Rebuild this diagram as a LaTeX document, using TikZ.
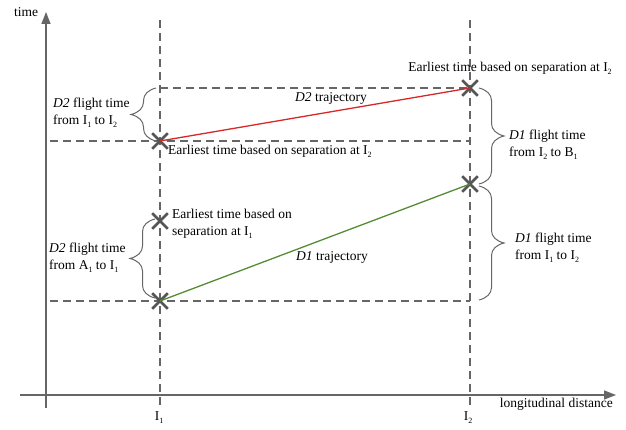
\documentclass[tikz,border=0pt]{standalone}
\usepackage{fontspec}
\setmainfont{Liberation Serif}
\usetikzlibrary{arrows.meta,shapes.misc,decorations.pathreplacing,positioning}
\definecolor{axisgray}{RGB}{102,102,102}
\definecolor{markgray}{RGB}{85,85,85}
\definecolor{trajred}{RGB}{214,40,40}
\definecolor{trajgreen}{RGB}{84,140,52}
\newcommand{\lowsub}[1]{\raisebox{-0.5ex}{\fontsize{8}{8}\selectfont #1}}
\tikzset{
  axisline/.style={axisgray,line width=1.4pt,-{Triangle[width=9pt,length=12pt]}},
  guide/.style={axisgray,line width=1.1pt,dash pattern=on 8pt off 5pt},
  xmark/.style={cross out,draw=markgray,line width=2.6pt,minimum size=13pt,inner sep=0pt},
  brc/.style={decorate,decoration={brace,amplitude=12.5pt,transform={yscale=2}},axisgray,line width=1pt},
  lbl/.style={font=\fontsize{13.5}{16.5}\selectfont,inner sep=0pt},
  traj/.style={line width=1.3pt},
}
\begin{document}
\begin{tikzpicture}[x=1pt,y=-1pt]
\useasboundingbox (0,0) rectangle (626,430);

% axes
\coordinate (ybot) at (46,408);
\coordinate (ytop) at (46,12);
\coordinate (xleft) at (20,395);
\coordinate (xright) at (616,395);
\draw[axisline] (ybot) -- (ytop);
\draw[axisline] (xleft) -- (xright);
\node[lbl] (timelab) at (26,12) {time};
\node[lbl,anchor=east] (distlab) at (613,404) {longitudinal distance};

% vertical guides at I1 and I2
\coordinate (g1top) at (160,20);
\coordinate (g1bot) at (160,406);
\coordinate (g2top) at (470,20);
\coordinate (g2bot) at (470,406);
\draw[guide] (g1top) -- (g1bot);
\draw[guide] (g2top) -- (g2bot);
\node[lbl] (i1lab) at (159,418) {I\lowsub{1}};
\node[lbl] (i2lab) at (468,418) {I\lowsub{2}};

% horizontal guides
\coordinate (h1a) at (160,88);
\coordinate (h1b) at (470,88);
\coordinate (h2a) at (50,141);
\coordinate (h2b) at (470,141);
\coordinate (h3a) at (50,301);
\coordinate (h3b) at (470,301);
\draw[guide] (h1a) -- (h1b);
\draw[guide] (h2a) -- (h2b);
\draw[guide] (h3a) -- (h3b);

% crossing points
\node[xmark] (d2a) at (160,141) {};
\node[xmark] (d2b) at (470,88) {};
\node[xmark] (sep1) at (160,221) {};
\node[xmark] (d1a) at (160,301) {};
\node[xmark] (d1b) at (470,184) {};

% trajectories
\draw[traj,trajred] (d2a.center) -- (d2b.center);
\draw[traj,trajgreen] (d1a.center) -- (d1b.center);
\node[lbl] (d2traj) at (331,98) {\textit{D2} trajectory};
\node[lbl] (d1traj) at (332,257) {\textit{D1} trajectory};

% braces
\draw[brc] (156,141) -- (156,88);
\draw[brc] (155,298) -- (155,219);
\draw[brc] (479,88) -- (479,184);
\draw[brc] (479,186) -- (479,300);

% labels
\node[lbl,align=left,anchor=west] (d2i1i2) at (53,113) {\textit{D2} flight time\\from I\lowsub{1} to I\lowsub{2}};
\node[lbl,align=left,anchor=west] (d2a1i1) at (49,258) {\textit{D2} flight time\\from A\lowsub{1} to I\lowsub{1}};
\node[lbl,align=left,anchor=west] (d1i2b1) at (509,145) {\textit{D1} flight time\\from I\lowsub{2} to B\lowsub{1}};
\node[lbl,align=left,anchor=west] (d1i1i2) at (515,248) {\textit{D1} flight time\\from I\lowsub{1} to I\lowsub{2}};
\node[lbl] (earl2top) at (510,68) {Earliest time based on separation at I\lowsub{2}};
\node[lbl,anchor=west] (earl2low) at (168,151) {Earliest time based on separation at I\lowsub{2}};
\node[lbl,align=left,anchor=west] (earl1) at (172,224) {Earliest time based on\\separation at I\lowsub{1}};
\end{tikzpicture}
\end{document}
